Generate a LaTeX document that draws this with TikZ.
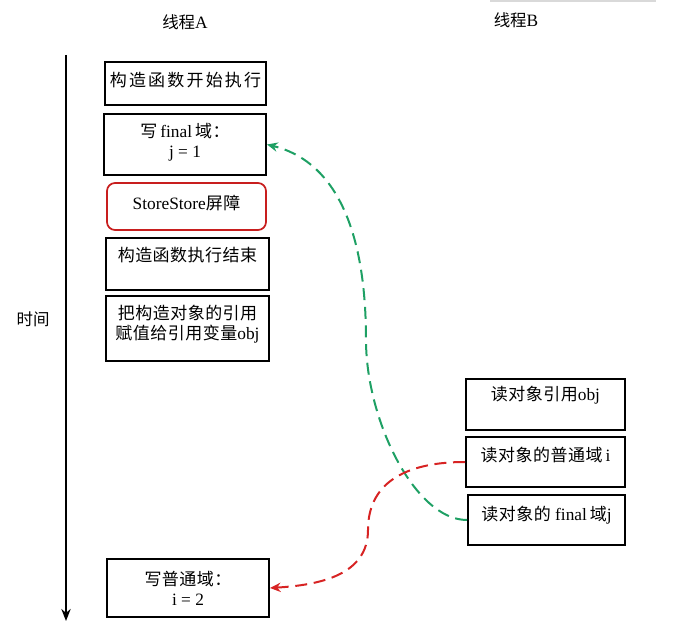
\documentclass[tikz,border=0pt]{standalone}
\usepackage{fontspec}
\setmainfont{Liberation Serif}
\newfontfamily\cjk{Noto Sans CJK SC}[Scale=0.98,LetterSpace=3]
\newfontfamily\cjkt{Noto Sans CJK SC}[Scale=0.95]
\newfontfamily\cjkw{Noto Sans CJK SC}[Scale=0.98,LetterSpace=13]
\newcommand\zh[1]{{\cjk #1}}
\usetikzlibrary{arrows.meta}
\definecolor{lgreen}{RGB}{30,160,100}
\definecolor{lred}{RGB}{215,35,35}
\definecolor{bred}{RGB}{200,30,30}
\begin{document}
\begin{tikzpicture}[x=0.75pt,y=-0.75pt,
  font=\fontsize{13}{15}\selectfont,
  box/.style={draw=black, line width=1.5pt, inner sep=0pt},
  barrier/.style={draw=bred, line width=1.3pt, rounded corners=6pt, inner sep=0pt},
  txt/.style={align=center, inner sep=0pt},
  link/.style={dash pattern=on 9pt off 5pt, line width=1.5pt, -{Stealth[length=8pt,width=7pt]}},
]
\useasboundingbox (0,0) rectangle (679,634);
% faint top rule
\coordinate (r1) at (490,1);
\coordinate (r2) at (656,1);
\draw[black!15, line width=1pt] (r1) -- (r2);
% titles
\node[txt] (ta) at (185,22) {{\cjkt 线程}A};
\node[txt] (tb) at (516,20) {{\cjkt 线程}B};
\node[txt] (time) at (33,319) {{\cjkt 时间}};
% time axis
\coordinate (ts) at (66,55);
\coordinate (te) at (66,621);
\draw[line width=1.3pt, -{Stealth[length=9pt,width=7pt]}] (ts) -- (te);
% thread A boxes
\node[box, minimum width=161*0.75pt, minimum height=43*0.75pt] (a1) at (185.5,83.5) {};
\node[box, minimum width=162*0.75pt, minimum height=61*0.75pt] (a2) at (185,144.5) {};
\node[barrier, minimum width=159*0.75pt, minimum height=47*0.75pt] (a3) at (186.5,206.5) {};
\node[box, minimum width=163*0.75pt, minimum height=52*0.75pt] (a4) at (187.5,264) {};
\node[box, minimum width=163*0.75pt, minimum height=65*0.75pt] (a5) at (187.5,328.5) {};
\node[box, minimum width=162*0.75pt, minimum height=58*0.75pt] (a6) at (188,588) {};
% thread B boxes
\node[box, minimum width=159*0.75pt, minimum height=51*0.75pt] (b1) at (545.5,404.5) {};
\node[box, minimum width=159*0.75pt, minimum height=50*0.75pt] (b2) at (545.5,462) {};
\node[box, minimum width=157*0.75pt, minimum height=50*0.75pt] (b3) at (546.5,520) {};
% texts
\node[txt] (x1) at (185.5,80) {{\cjkw 构造函数开始执行}};
\node[txt] (x2) at (185,142) {\zh{写}\,final\,\zh{域：}\\j = 1};
\node[txt] (x3) at (186.5,203) {StoreStore\zh{屏障}};
\node[txt] (x4) at (187.5,255) {\zh{构造函数执行结束}};
\node[txt] (x5) at (187.5,324) {\zh{把构造对象的引用}\\\zh{赋值给引用变量}obj};
\node[txt] (x6) at (188,588) {\zh{写普通域：}\\i = 2};
\node[txt] (y1) at (545.5,395) {\zh{读对象引用}obj};
\node[txt] (y2) at (545.5,455) {\zh{读对象的普通域}\,i};
\node[txt] (y3) at (546.5,515) {\zh{读对象的}\ final\,\zh{域}j};
% connectors
\draw[link, lgreen] (b3.west) .. controls (415,520) and (366,420) .. (366,340)
  .. controls (366,220) and (330,160) .. (a2.east);
\draw[link, lred] (b2.west) .. controls (410,462) and (368,480) .. (368,530)
  .. controls (368,575) and (320,585) .. (a6.east);
\end{tikzpicture}
\end{document}
